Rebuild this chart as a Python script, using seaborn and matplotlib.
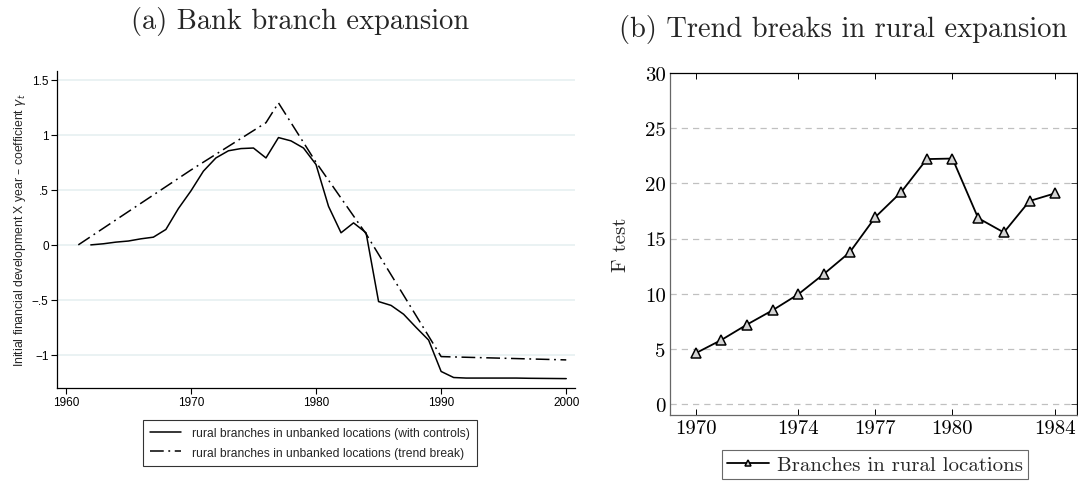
import numpy as np
import pandas as pd
import matplotlib
matplotlib.use("Agg")
import matplotlib.pyplot as plt
import seaborn as sns

# --- Data: panel (a) bank branch expansion ---
years_ctrl = list(range(1962, 2001))
coef_ctrl = [0.0, 0.01, 0.025, 0.035, 0.055, 0.07, 0.14, 0.33, 0.49, 0.67,
             0.79, 0.855, 0.875, 0.88, 0.79, 0.975, 0.945, 0.88, 0.73, 0.35,
             0.11, 0.2, 0.11, -0.515, -0.55, -0.63, -0.75, -0.865, -1.15, -1.205,
             -1.21, -1.21, -1.21, -1.21, -1.21, -1.212, -1.213, -1.214, -1.215]
years_break = [1961, 1970, 1976, 1977, 1980, 1984, 1990, 2000]
coef_break = [0.0, 0.68, 1.11, 1.29, 0.75, 0.1, -1.015, -1.045]

label_ctrl = "rural branches in unbanked locations (with controls)"
label_break = "rural branches in unbanked locations (trend break)"
a_yticks = [-1, -0.5, 0, 0.5, 1, 1.5]
a_yticklabels = ["\u22121", "\u2212.5", "0", ".5", "1", "1.5"]
a_xticks = [1960, 1970, 1980, 1990, 2000]

# --- Data: panel (b) trend breaks in rural expansion ---
years_f = list(range(1970, 1985))
f_test = [4.6, 5.8, 7.2, 8.5, 9.95, 11.8, 13.75, 16.95, 19.2, 22.2,
          22.25, 16.85, 15.55, 18.4, 19.1]
b_xticks = [1970, 1974, 1977, 1980, 1984]
b_yticks = [0, 5, 10, 15, 20, 25, 30]

sns.set_theme(style="white")
plt.rcParams["font.family"] = ["Liberation Sans", "DejaVu Sans"]
plt.rcParams["mathtext.fontset"] = "dejavusans"

fig = plt.figure(figsize=(10.78, 4.85), dpi=100)

# ---------------- Panel (a) ----------------
ax1 = fig.add_axes([0.0529, 0.198, 0.4805, 0.6536])
df_ctrl = pd.DataFrame({"year": years_ctrl, "coef": coef_ctrl})
df_break = pd.DataFrame({"year": years_break, "coef": coef_break})
sns.lineplot(data=df_ctrl, x="year", y="coef", ax=ax1, color="black",
             linewidth=1.1, label=label_ctrl)
sns.lineplot(data=df_break, x="year", y="coef", ax=ax1, color="black",
             linewidth=1.1, linestyle=(0, (9, 3, 1.2, 3)), label=label_break)
ax1.set_xlim(1959.3, 2000.7)
ax1.set_ylim(-1.3, 1.58)
ax1.set_yticks(a_yticks)
ax1.set_yticklabels(a_yticklabels)
ax1.set_xticks(a_xticks)
ax1.set_xlabel("")
ax1.set_ylabel("Initial financial development X year \u2013 coefficient $\\gamma_t$",
               fontsize=8.8, labelpad=3)
for y in a_yticks:
    ax1.axhline(y, color="#eaf2f3", linewidth=1.4, zorder=0)
for s in ["top", "right"]:
    ax1.spines[s].set_visible(False)
for s in ["left", "bottom"]:
    ax1.spines[s].set_color("black")
    ax1.spines[s].set_linewidth(0.9)
ax1.tick_params(axis="both", direction="out", length=4, width=0.8,
                labelsize=8.5, colors="black", pad=2)
ax1.tick_params(axis="both", left=True, bottom=True)
ax1.get_legend().remove()
leg1 = fig.legend(*ax1.get_legend_handles_labels(), loc="center",
                  bbox_to_anchor=(310 / 1078, 1 - 444 / 485), fontsize=8.7,
                  frameon=True, fancybox=False, edgecolor="black",
                  handlelength=2.6, handletextpad=0.9, borderpad=0.6,
                  labelspacing=0.6)
leg1.get_frame().set_linewidth(0.8)

# ---------------- Panel (b) ----------------
cm = ["cmr10", "DejaVu Serif"]
ax2 = fig.add_axes([0.6215, 0.1423, 0.3776, 0.705])
df_f = pd.DataFrame({"year": years_f, "F": f_test})
sns.lineplot(data=df_f, x="year", y="F", ax=ax2, color="black", linewidth=1.3,
             marker="^", markersize=6.5, markerfacecolor="#d4d4d4",
             markeredgecolor="black", markeredgewidth=1.1,
             label="Branches in rural locations")
ax2.set_xlim(1969.0, 1984.85)
ax2.set_ylim(-1, 30)
ax2.set_xticks(b_xticks)
ax2.set_yticks(b_yticks)
ax2.set_xticklabels([str(t) for t in b_xticks], family=cm, fontsize=15)
ax2.set_yticklabels([str(t) for t in b_yticks], family=cm, fontsize=15)
ax2.set_xlabel("")
ax2.set_ylabel("F test", family=cm, fontsize=15, labelpad=11)
for y in b_yticks[:-1]:
    ax2.axhline(y, color="#c0c0c0", linewidth=0.9, linestyle=(0, (5, 4)), zorder=0)
ax2.spines["top"].set_color("black")
ax2.spines["right"].set_color("black")
ax2.spines["left"].set_color("#666666")
ax2.spines["bottom"].set_color("#666666")
for s in ax2.spines.values():
    s.set_linewidth(0.9)
ax2.tick_params(axis="both", direction="in", length=4, width=0.7,
                colors="black", top=True, right=True, left=False, bottom=True,
                pad=3)
ax2.tick_params(axis="y", colors="#444444", labelcolor="black")
ax2.get_legend().remove()
leg2 = fig.legend(*ax2.get_legend_handles_labels(), loc="upper center",
                  bbox_to_anchor=(875 / 1078, 1 - 451 / 485),
                  prop={"family": cm, "size": 15}, frameon=True, fancybox=False,
                  edgecolor="#444444", handlelength=2.0, borderpad=0.25,
                  borderaxespad=0, handletextpad=0.4, markerscale=0.7)
leg2.get_frame().set_linewidth(0.8)

# ---------------- Titles ----------------
fig.text(300 / 1078, 1 - 22 / 485, "(a) Bank branch expansion", family=cm,
         fontsize=20.5, ha="center", va="center")
fig.text(843 / 1078, 1 - 29 / 485, "(b) Trend breaks in rural expansion",
         family=cm, fontsize=20.5, ha="center", va="center")

fig.savefig("out.png", dpi=100)
